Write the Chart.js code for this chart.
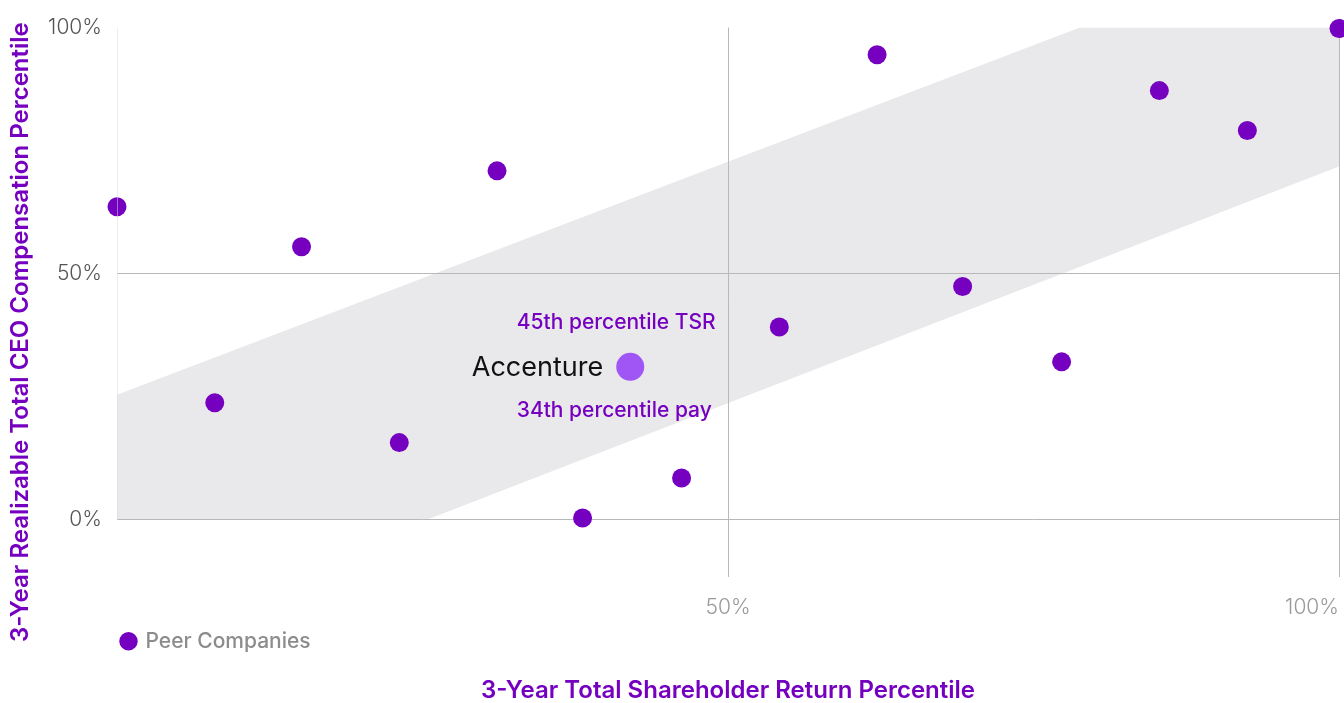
<!DOCTYPE html>
<html>
<head>
<meta charset="utf-8">
<title>TSR vs CEO Pay</title>
<script src="https://cdn.jsdelivr.net/npm/chart.js@4.4.1/dist/chart.umd.min.js"></script>
<style>
  html, body { margin: 0; padding: 0; background: #fff; }
  #chart { display: block; }
</style>
</head>
<body>
<canvas id="chart" width="1344" height="703"></canvas>
<script>
  "use strict";

  // Peer companies: 3-year TSR percentile (x) vs realizable pay percentile (y)
  const peerTsr = [0, 8.0, 15.1, 23.1, 31.1, 38.1, 46.2, 54.2, 62.2, 69.2, 77.3, 85.3, 92.5, 100];
  const peerPay = [63.6, 23.8, 55.5, 15.7, 70.9, 0.4, 8.5, 39.2, 94.5, 47.4, 32.1, 87.2, 79.1, 99.8];

  // Accenture
  const accentureTsr = [42];
  const accenturePay = [31.1];
  const accentureNotes = ['45th percentile TSR', 'Accenture', '34th percentile pay'];

  // Pay-for-performance alignment band, outline
  const bandTsr = [0, 78.8, 100, 100, 25.3, 0];
  const bandPay = [25.4, 100, 100, 71.8, 0, 0];

  // Left reference line
  const refTsr = [0, 0];
  const refPay = [0, 100];

  const axisTicks = [0, 50, 100];

  const PURPLE = '#7500C0';
  const FONT = 'Inter, "Noto Sans", sans-serif';

  const toPoints = (xs, ys) => xs.map((x, i) => ({ x: x, y: ys[i] }));

  // Callout text around the Accenture marker
  const calloutPlugin = {
    id: 'callout',
    afterDatasetsDraw(chart) {
      const pt = chart.getDatasetMeta(3).data[0];
      if (!pt) return;
      const ctx = chart.ctx;
      ctx.save();
      ctx.textBaseline = 'middle';
      ctx.fillStyle = PURPLE;
      ctx.font = '500 21px ' + FONT;
      ctx.textAlign = 'center';
      ctx.fillText(accentureNotes[0], pt.x - 14, pt.y - 44);
      ctx.fillText(accentureNotes[2], pt.x - 16, pt.y + 44);
      ctx.fillStyle = '#111';
      ctx.font = '400 27px ' + FONT;
      ctx.textAlign = 'right';
      ctx.fillText(accentureNotes[1], pt.x - 27, pt.y + 1);
      ctx.restore();
    }
  };

  new Chart(document.getElementById('chart'), {
    type: 'scatter',
    data: {
      datasets: [
        {
          type: 'line',
          label: 'band',
          data: toPoints(bandTsr, bandPay),
          fill: 'shape',
          backgroundColor: '#E9E9EB',
          borderWidth: 0,
          pointRadius: 0,
          tension: 0
        },
        {
          type: 'line',
          label: 'ref',
          data: toPoints(refTsr, refPay),
          fill: false,
          borderColor: '#dcdcdc',
          borderWidth: 1,
          pointRadius: 0
        },
        {
          label: 'Peer Companies',
          data: toPoints(peerTsr, peerPay),
          backgroundColor: PURPLE,
          borderWidth: 0,
          pointRadius: 9.5,
          clip: false
        },
        {
          label: 'Accenture',
          data: toPoints(accentureTsr, accenturePay),
          backgroundColor: '#A055F5',
          borderWidth: 0,
          pointRadius: 14,
          clip: false
        }
      ]
    },
    options: {
      responsive: false,
      animation: false,
      events: [],
      // bottom padding lifts the centre of the rotated y title; x title pulls it back down
      layout: { autoPadding: false, padding: { top: 0, right: 5, bottom: 38.8, left: 0 } },
      scales: {
        x: {
          type: 'linear',
          min: 0,
          max: 100,
          afterBuildTicks: (s) => { s.ticks = axisTicks.map(v => ({ value: v })); },
          afterFit: (s) => { s.height = 48.8; },
          border: { display: false },
          grid: {
            color: (c) => c.tick && c.tick.value === 0 ? 'rgba(0,0,0,0)' : '#b8b8b8',
            lineWidth: 1,
            drawTicks: true,
            tickLength: 18,
            tickColor: 'rgba(0,0,0,0)'
          },
          ticks: {
            align: 'inner',
            padding: 0,
            color: '#9a9a9a',
            font: { family: FONT, size: 21, weight: '300' },
            callback: (v) => v === 0 ? '' : v + '%'
          }
        },
        y: {
          type: 'linear',
          min: -11.6,
          max: 100,
          afterBuildTicks: (s) => { s.ticks = axisTicks.map(v => ({ value: v })); },
          afterFit: (s) => { s.width = 81.6; },
          border: { display: false },
          grid: {
            color: (c) => c.tick && c.tick.value === 100 ? 'rgba(0,0,0,0)' : '#b8b8b8',
            lineWidth: 1,
            drawTicks: false
          },
          ticks: {
            padding: 15,
            color: '#555',
            font: { family: FONT, size: 21, weight: '300' },
            callback: (v) => v + '%'
          }
        }
      },
      plugins: {
        filler: { drawTime: 'beforeDraw' },
        tooltip: { enabled: false },
        legend: {
          position: 'bottom',
          align: 'start',
          fullSize: false,
          labels: {
            usePointStyle: true,
            pointStyle: 'circle',
            boxWidth: 13,
            boxHeight: 13,
            padding: 5,
            color: '#8c8c8c',
            font: { family: FONT, size: 21, weight: '500' },
            filter: (item) => item.text === 'Peer Companies'
          }
        },
        title: {
          display: true,
          position: 'bottom',
          fullSize: false,
          text: '3-Year Total Shareholder Return Percentile',
          color: PURPLE,
          font: { family: FONT, size: 24, weight: '600', lineHeight: 1.1 },
          padding: { top: 16, bottom: -40 }
        },
        subtitle: {
          display: true,
          position: 'left',
          fullSize: true,
          text: '3-Year Realizable Total CEO Compensation Percentile',
          color: PURPLE,
          font: { family: FONT, size: 24, weight: '600', lineHeight: 1.2 },
          padding: { top: 6.6, bottom: 0 }
        }
      }
    },
    plugins: [calloutPlugin]
  });
</script>
</body>
</html>
